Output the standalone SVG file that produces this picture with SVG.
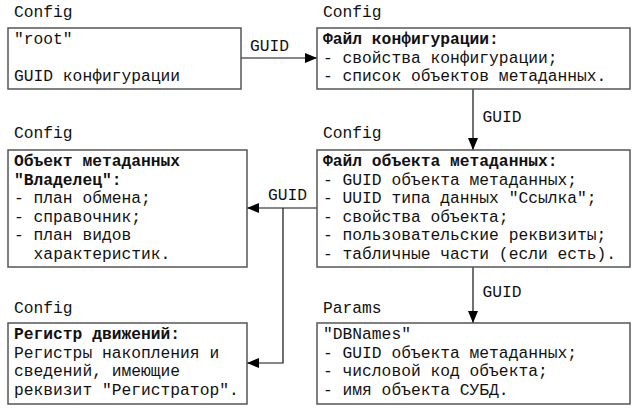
<svg xmlns="http://www.w3.org/2000/svg" width="637" height="412" viewBox="0 0 637 412">
<defs>
<style>
text{font-family:"Liberation Mono","Courier New",monospace;font-size:16.3px;fill:#111;}
.b{font-weight:bold;}
.box{fill:#fff;stroke:#555;stroke-width:1.5;}
.ln{fill:none;stroke:#111;stroke-width:1.2;}
</style>
<marker id="ah" viewBox="0 0 12 10" refX="12" refY="5" markerWidth="12" markerHeight="10" markerUnits="userSpaceOnUse" orient="auto">
<path d="M0,0 L12,5 L0,10 Z" fill="#000"/>
</marker>
</defs>
<rect width="637" height="412" fill="#fff"/>
<g id="connectors">
<line class="ln" x1="241" y1="58" x2="317" y2="58" marker-end="url(#ah)"/>
<text x="250" y="51">GUID</text>
<line class="ln" x1="473" y1="89" x2="473" y2="150" marker-end="url(#ah)"/>
<text x="482.5" y="122">GUID</text>
<line class="ln" x1="317" y1="208" x2="247" y2="208" marker-end="url(#ah)"/>
<text x="268" y="200">GUID</text>
<polyline class="ln" points="283,208 283,363 247,363" marker-end="url(#ah)"/>
<line class="ln" x1="473" y1="267" x2="473" y2="323" marker-end="url(#ah)"/>
<text x="482.5" y="297">GUID</text>
</g>
<g id="root">
<text x="14" y="17">Config</text>
<rect class="box" x="8" y="28" width="233" height="61"/>
<text x="14" y="44">"root"</text>
<text x="14" y="81.2">GUID конфигурации</text>
</g>
<g id="config-file">
<text x="323" y="17">Config</text>
<rect class="box" x="317" y="28" width="313" height="61"/>
<text class="b" x="323" y="44">Файл конфигурации:</text>
<text x="323" y="62.6">- свойства конфигурации;</text>
<text x="323" y="81.2">- список объектов метаданных.</text>
</g>
<g id="owner">
<text x="14" y="138">Config</text>
<rect class="box" x="8" y="150" width="239" height="117"/>
<text class="b" x="14" y="166">Объект метаданных</text>
<text class="b" x="14" y="184.6">"Владелец":</text>
<text x="14" y="203.2">- план обмена;</text>
<text x="14" y="221.8">- справочник;</text>
<text x="14" y="240.4">- план видов</text>
<text x="33.6" y="259">характеристик.</text>
</g>
<g id="object-file">
<text x="323" y="138">Config</text>
<rect class="box" x="317" y="150" width="313" height="117"/>
<text class="b" x="323" y="166">Файл объекта метаданных:</text>
<text x="323" y="184.6">- GUID объекта метаданных;</text>
<text x="323" y="203.2">- UUID типа данных "Ссылка";</text>
<text x="323" y="221.8">- свойства объекта;</text>
<text x="323" y="240.4">- пользовательские реквизиты;</text>
<text x="323" y="259">- табличные части (если есть).</text>
</g>
<g id="register">
<text x="14" y="313">Config</text>
<rect class="box" x="8" y="323" width="239" height="81"/>
<text class="b" x="14" y="339">Регистр движений:</text>
<text x="14" y="357.6">Регистры накопления и</text>
<text x="14" y="376.2">сведений, имеющие</text>
<text x="14" y="394.8">реквизит "Регистратор".</text>
</g>
<g id="dbnames">
<text x="323" y="313">Params</text>
<rect class="box" x="317" y="323" width="313" height="81"/>
<text x="323" y="339">"DBNames"</text>
<text x="323" y="357.6">- GUID объекта метаданных;</text>
<text x="323" y="376.2">- числовой код объекта;</text>
<text x="323" y="394.8">- имя объекта СУБД.</text>
</g>
</svg>
